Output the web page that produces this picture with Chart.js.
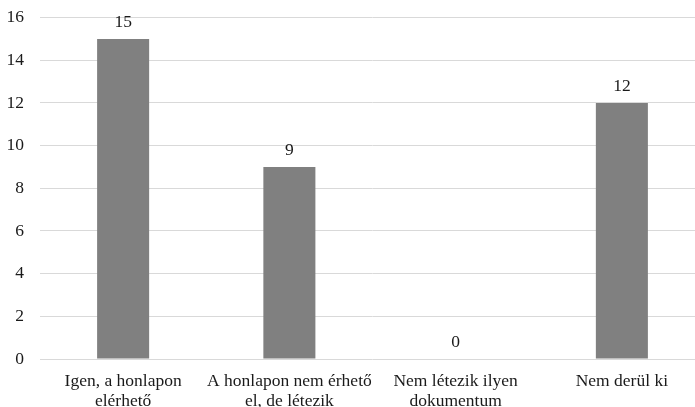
<!DOCTYPE html>
<html>
<head>
<meta charset="utf-8">
<script src="https://cdn.jsdelivr.net/npm/chart.js@4"></script>
<style>
  html, body { margin: 0; padding: 0; background: #fff; overflow: hidden; }
  body { width: 695px; height: 407px; }
  #wrap { width: 705px; height: 407px; }
</style>
</head>
<body>
<div id="wrap"><canvas id="chart"></canvas></div>
<script>
// Categories and values
const categories = [
  ['Igen, a honlapon', 'elérhető'],
  ['A honlapon nem érhető', 'el, de létezik'],
  ['Nem létezik ilyen', 'dokumentum'],
  'Nem derül ki'
];
const counts = [15, 9, 0, 12];
const yMax = 16;
const yStep = 2;

const fontFamily = '"Liberation Serif", "Times New Roman", serif';
const textColor = '#1a1a1a';

// Value labels above each bar
const valueLabels = {
  id: 'valueLabels',
  afterDatasetsDraw(chart) {
    const ctx = chart.ctx;
    const meta = chart.getDatasetMeta(0);
    ctx.save();
    ctx.font = '17.5px ' + fontFamily;
    ctx.fillStyle = textColor;
    ctx.textAlign = 'center';
    ctx.textBaseline = 'middle';
    meta.data.forEach((bar, i) => {
      ctx.fillText(String(counts[i]), bar.x, bar.y - 17);
    });
    ctx.restore();
  }
};

new Chart(document.getElementById('chart'), {
  type: 'bar',
  data: {
    labels: categories,
    datasets: [{
      data: counts,
      backgroundColor: '#808080',
      categoryPercentage: 1,
      barPercentage: 0.313
    }]
  },
  options: {
    responsive: true,
    maintainAspectRatio: false,
    animation: false,
    layout: { padding: 0 },
    plugins: {
      legend: { display: false },
      tooltip: { enabled: false }
    },
    scales: {
      x: {
        grid: { display: false, drawTicks: false },
        border: { display: false },
        ticks: {
          color: textColor,
          font: { family: fontFamily, size: 17.5, lineHeight: 1.15 },
          padding: 12,
          maxRotation: 0,
          autoSkip: false
        },
        afterFit(scale) { scale.height = 48; }
      },
      y: {
        min: 0,
        max: yMax,
        grid: { color: '#d9d9d9', lineWidth: 1, drawTicks: false },
        border: { display: false },
        ticks: {
          stepSize: yStep,
          color: textColor,
          font: { family: fontFamily, size: 17.5, lineHeight: 0.18 },
          padding: 16
        },
        afterFit(scale) { scale.width = 40; }
      }
    }
  },
  plugins: [valueLabels]
});
</script>
</body>
</html>
